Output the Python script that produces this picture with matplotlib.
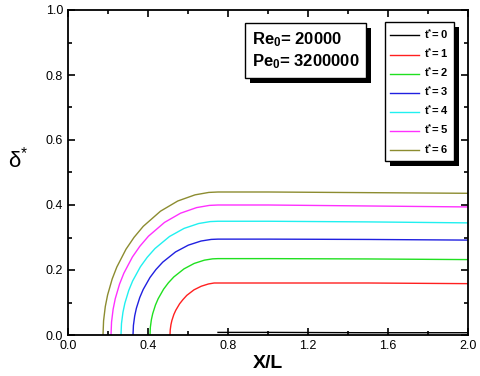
import matplotlib
matplotlib.use("Agg")
import matplotlib.pyplot as plt
from matplotlib.patches import Rectangle
from matplotlib.ticker import MultipleLocator

plt.rcParams['font.family'] = ['Liberation Sans', 'DejaVu Sans']
plt.rcParams['mathtext.default'] = 'regular'

labels = ["t$^{*}$= 0", "t$^{*}$= 1", "t$^{*}$= 2", "t$^{*}$= 3", "t$^{*}$= 4", "t$^{*}$= 5", "t$^{*}$= 6"]
colors = ["#000000", "#ff2020", "#20e020", "#2020e0", "#20f0f0", "#ff30ff", "#8c8c30"]

x_t0 = [0.75, 1.0, 1.5, 2.0]
y_t0 = [0.008, 0.008, 0.007, 0.007]

x_t1 = [0.51, 0.5112, 0.5148, 0.5196, 0.5292, 0.5388, 0.558, 0.5748, 0.594, 0.63, 0.666, 0.702, 0.7308, 0.75, 1.0, 1.5, 2.0]
y_t1 = [0.0, 0.016, 0.032, 0.045, 0.063, 0.076, 0.096, 0.109, 0.122, 0.139, 0.150, 0.157, 0.160, 0.160, 0.160, 0.160, 0.158]

x_t2 = [0.41, 0.4117, 0.4168, 0.4236, 0.4372, 0.4508, 0.478, 0.5018, 0.529, 0.58, 0.631, 0.682, 0.7228, 0.75, 1.0, 1.5, 2.0]
y_t2 = [0.0, 0.0235, 0.0468, 0.0658, 0.0921, 0.1116, 0.141, 0.1605, 0.1786, 0.2035, 0.2202, 0.2303, 0.2343, 0.235, 0.235, 0.234, 0.232]

x_t3 = [0.325, 0.3271, 0.3335, 0.342, 0.359, 0.376, 0.41, 0.4398, 0.4738, 0.5375, 0.6013, 0.665, 0.716, 0.75, 1.0, 1.5, 2.0]
y_t3 = [0.0, 0.0295, 0.0587, 0.0826, 0.1156, 0.1401, 0.177, 0.2015, 0.2242, 0.2555, 0.2764, 0.2891, 0.2941, 0.295, 0.295, 0.294, 0.292]

x_t4 = [0.265, 0.2674, 0.2747, 0.2844, 0.3038, 0.3232, 0.362, 0.396, 0.4348, 0.5075, 0.5803, 0.653, 0.7112, 0.75, 1.0, 1.5, 2.0]
y_t4 = [0.0, 0.035, 0.0697, 0.098, 0.1372, 0.1663, 0.21, 0.239, 0.266, 0.3031, 0.328, 0.343, 0.349, 0.350, 0.350, 0.348, 0.345]

x_t5 = [0.215, 0.2177, 0.2257, 0.2364, 0.2578, 0.2792, 0.322, 0.3595, 0.4023, 0.4825, 0.5628, 0.643, 0.7072, 0.75, 1.0, 1.5, 2.0]
y_t5 = [0.0, 0.040, 0.0796, 0.112, 0.1568, 0.190, 0.240, 0.2732, 0.304, 0.3464, 0.3748, 0.392, 0.3988, 0.400, 0.400, 0.397, 0.394]

x_t6 = [0.175, 0.1779, 0.1865, 0.198, 0.221, 0.244, 0.29, 0.3303, 0.3763, 0.4625, 0.5488, 0.635, 0.704, 0.75, 1.0, 1.5, 2.0]
y_t6 = [0.0, 0.044, 0.0876, 0.1232, 0.1725, 0.209, 0.264, 0.3005, 0.3344, 0.381, 0.4123, 0.4312, 0.4387, 0.440, 0.440, 0.438, 0.436]

xs = [x_t0, x_t1, x_t2, x_t3, x_t4, x_t5, x_t6]
ys = [y_t0, y_t1, y_t2, y_t3, y_t4, y_t5, y_t6]

fig = plt.figure(figsize=(4.8, 3.76), dpi=100)
ax = fig.add_axes([68/480, 41/376, 400/480, 325/376])

for x, y, c, lab in zip(xs, ys, colors, labels):
    ax.plot(x, y, color=c, lw=1.0, label=lab)

ax.set_xlim(0, 2.0)
ax.set_ylim(0, 1.0)
ax.xaxis.set_major_locator(MultipleLocator(0.4))
ax.xaxis.set_minor_locator(MultipleLocator(0.2))
ax.yaxis.set_major_locator(MultipleLocator(0.2))
ax.yaxis.set_minor_locator(MultipleLocator(0.1))
ax.tick_params(which='both', direction='in', top=True, right=True, labelsize=9, width=1.2)
ax.tick_params(which='major', length=5)
ax.tick_params(which='minor', length=3)
for s in ax.spines.values():
    s.set_linewidth(1.3)

ax.set_xlabel("X/L", fontsize=14, fontweight='bold', labelpad=2)
ax.set_ylabel("δ$^{*}$", fontsize=16, rotation=0)
ax.yaxis.set_label_coords(-0.125, 0.5)

leg = ax.legend(loc='upper right', bbox_to_anchor=(0.965, 0.963), borderaxespad=0,
                frameon=True, fancybox=False, framealpha=1.0,
                prop={'weight': 'bold', 'size': 8},
                handlelength=2.6, labelspacing=0.47, borderpad=0.5, handletextpad=0.4)
leg.get_frame().set_edgecolor('black')
leg.get_frame().set_linewidth(1.0)

txt = ax.text(0.46, 0.938, "Re$_0$= 20000\nPe$_0$= 3200000", transform=ax.transAxes,
              ha='left', va='top', fontsize=12, fontweight='bold', linespacing=1.25,
              bbox=dict(boxstyle='square,pad=0.4', fc='white', ec='black', lw=1.0), zorder=6)

fig.canvas.draw()
r = fig.canvas.get_renderer()
for art, z in [(leg, 4.9), (txt, 5.9)]:
    bb = art.get_bbox_patch().get_window_extent(r) if art is txt else art.get_frame().get_window_extent(r)
    ax.add_patch(Rectangle((bb.x0 + 5, bb.y0 - 5), bb.width, bb.height, transform=None,
                           fc='black', ec='none', zorder=z, clip_on=False))

fig.savefig("out.png", dpi=100)
